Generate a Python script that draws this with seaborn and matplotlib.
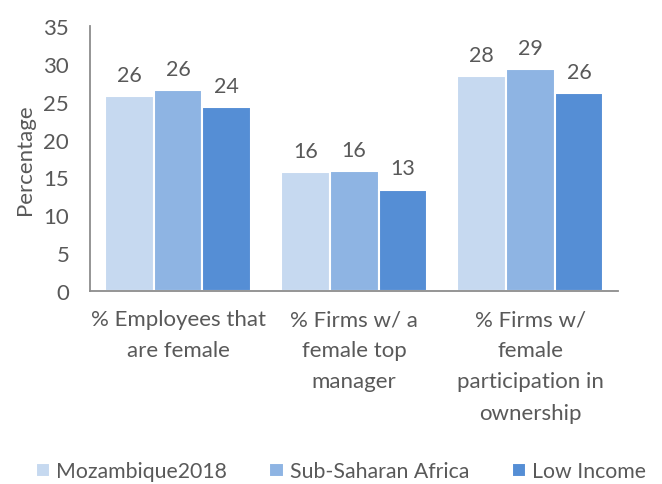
import matplotlib
matplotlib.use("Agg")
import matplotlib.pyplot as plt
import seaborn as sns
import pandas as pd

categories = ["% Employees that\nare female", "% Firms w/ a\nfemale top\nmanager",
              "% Firms w/\nfemale\nparticipation in\nownership"]
series = ["Mozambique2018", "Sub-Saharan Africa", "Low Income"]
moz = [25.8, 15.7, 28.4]
ssa = [26.5, 15.8, 29.3]
low = [24.3, 13.4, 26.2]
colors = ["#C6D9F0", "#8EB4E3", "#558ED5"]

rows = []
for s, vals in zip(series, [moz, ssa, low]):
    for c, v in zip(categories, vals):
        rows.append({"cat": c, "series": s, "val": v})
df = pd.DataFrame(rows)

sns.set_theme(style="white")
plt.rcParams["font.family"] = ["Lato", "DejaVu Sans"]
txt = "#595959"

fig = plt.figure(figsize=(6.62, 4.85), dpi=100)
ax = fig.add_axes([0.136, 0.398, 0.798, 0.546])
sns.barplot(data=df, x="cat", y="val", hue="series", palette=colors, width=0.83,
            saturation=1, edgecolor="white", linewidth=1.5, ax=ax, legend=True)

for cont in ax.containers:
    ax.bar_label(cont, labels=[f"{v:.0f}" for v in cont.datavalues], padding=8,
                 fontsize=15.5, color=txt)

ax.set_ylim(0, 35)
ax.set_yticks(range(0, 36, 5))
ax.set_xlim(-0.5, 2.5)
ax.set_xlabel("")
ax.set_ylabel("Percentage", fontsize=16, color=txt, labelpad=6)
ax.tick_params(axis="y", length=0, labelsize=16, colors=txt, pad=15)
ax.tick_params(axis="x", length=0, labelsize=16, colors=txt, pad=13)
for lab in ax.get_xticklabels():
    lab.set_linespacing(1.7)
for s in ["top", "right"]:
    ax.spines[s].set_visible(False)
for s in ["left", "bottom"]:
    ax.spines[s].set_color("#8C8C8C")
    ax.spines[s].set_linewidth(1.3)

h, l = ax.get_legend_handles_labels()
ax.get_legend().remove()
fig.legend(h, l, loc="lower center", bbox_to_anchor=(0.515, -0.012), ncol=3, frameon=False,
           fontsize=15.3, labelcolor=txt, handlelength=0.66, handleheight=0.66,
           handletextpad=0.3, columnspacing=2.0, borderaxespad=0)

fig.savefig("out.png", dpi=100)
